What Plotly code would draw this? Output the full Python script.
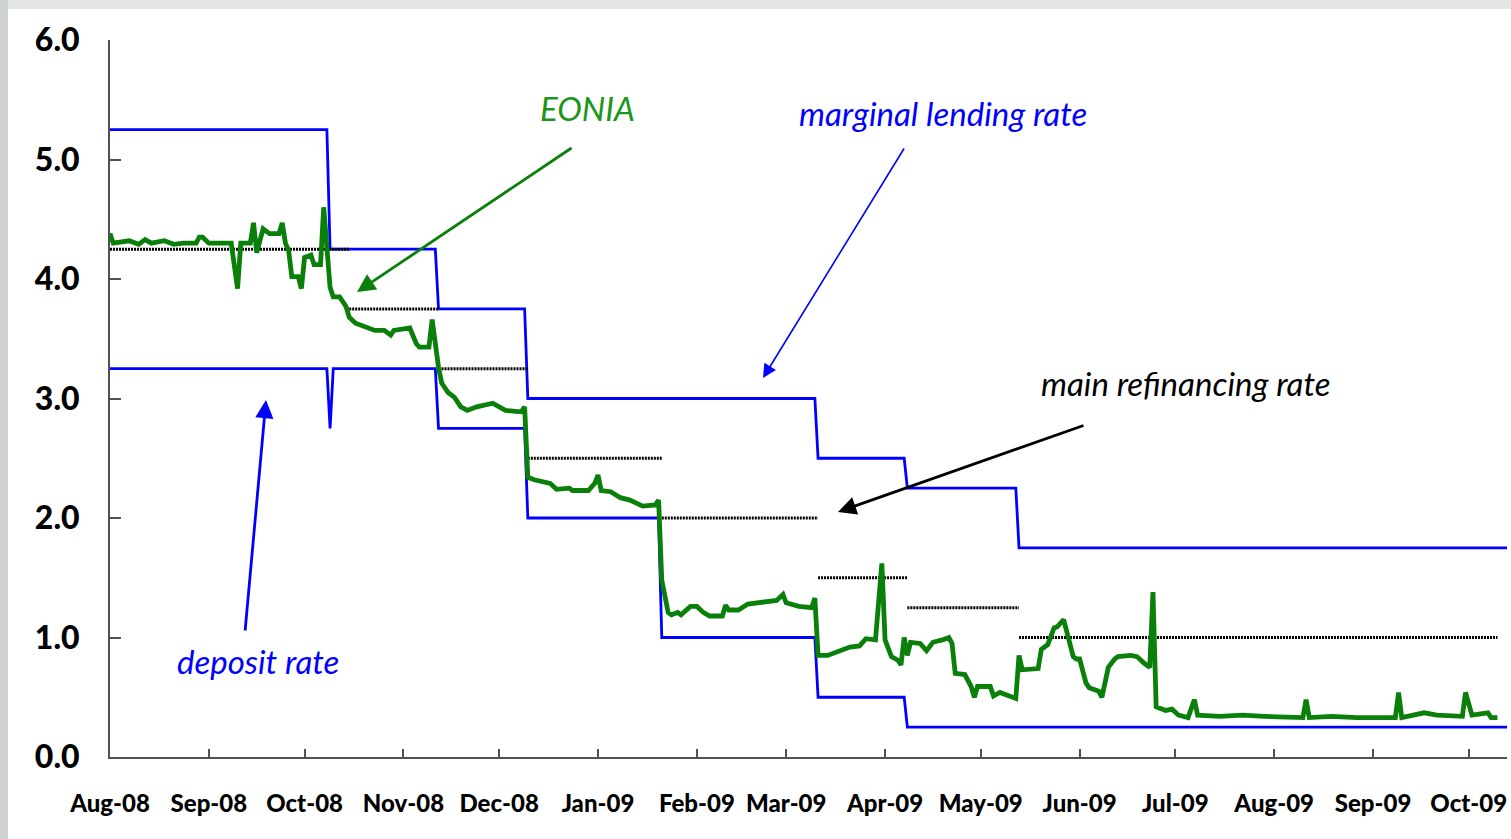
import plotly.graph_objects as go

# ---------------- data ----------------
eonia_dates = [
    "2008-08-01", "2008-08-02", "2008-08-07", "2008-08-10", "2008-08-12", "2008-08-14",
    "2008-08-18", "2008-08-21", "2008-08-24", "2008-08-28", "2008-08-29", "2008-08-30",
    "2008-09-01", "2008-09-08", "2008-09-10", "2008-09-11", "2008-09-14", "2008-09-15",
    "2008-09-16", "2008-09-18", "2008-09-20", "2008-09-23", "2008-09-24", "2008-09-25",
    "2008-09-26", "2008-09-27", "2008-09-29", "2008-09-30", "2008-10-01", "2008-10-03",
    "2008-10-04", "2008-10-06", "2008-10-07", "2008-10-09", "2008-10-10", "2008-10-12",
    "2008-10-14", "2008-10-15", "2008-10-17", "2008-10-20", "2008-10-23", "2008-10-26",
    "2008-10-28", "2008-10-29", "2008-11-02", "2008-11-03", "2008-11-05", "2008-11-06",
    "2008-11-09", "2008-11-10", "2008-11-12", "2008-11-13", "2008-11-15", "2008-11-17",
    "2008-11-19", "2008-11-21", "2008-11-24", "2008-11-27", "2008-11-29", "2008-12-01",
    "2008-12-03", "2008-12-07", "2008-12-08", "2008-12-09", "2008-12-10", "2008-12-12",
    "2008-12-15", "2008-12-17", "2008-12-19", "2008-12-23", "2008-12-24", "2008-12-29",
    "2008-12-31", "2009-01-01", "2009-01-02", "2009-01-05", "2009-01-08", "2009-01-11",
    "2009-01-15", "2009-01-19", "2009-01-20", "2009-01-21", "2009-01-23", "2009-01-24",
    "2009-01-26", "2009-01-27", "2009-01-30", "2009-02-01", "2009-02-03", "2009-02-05",
    "2009-02-09", "2009-02-10", "2009-02-11", "2009-02-14", "2009-02-17", "2009-02-20",
    "2009-02-23", "2009-02-26", "2009-02-28", "2009-03-01", "2009-03-05", "2009-03-09",
    "2009-03-10", "2009-03-11", "2009-03-14", "2009-03-17", "2009-03-21", "2009-03-24",
    "2009-03-26", "2009-03-29", "2009-03-31", "2009-04-01", "2009-04-03", "2009-04-05",
    "2009-04-06", "2009-04-07", "2009-04-08", "2009-04-09", "2009-04-12", "2009-04-14",
    "2009-04-16", "2009-04-19", "2009-04-21", "2009-04-22", "2009-04-23", "2009-04-26",
    "2009-04-28", "2009-04-29", "2009-04-30", "2009-05-04", "2009-05-05", "2009-05-07",
    "2009-05-11", "2009-05-12", "2009-05-13", "2009-05-14", "2009-05-19", "2009-05-20",
    "2009-05-22", "2009-05-24", "2009-05-25", "2009-05-27", "2009-05-30", "2009-05-31",
    "2009-06-01", "2009-06-03", "2009-06-04", "2009-06-07", "2009-06-08", "2009-06-10",
    "2009-06-12", "2009-06-13", "2009-06-17", "2009-06-19", "2009-06-21", "2009-06-23",
    "2009-06-24", "2009-06-25", "2009-06-28", "2009-06-30", "2009-07-02", "2009-07-05",
    "2009-07-07", "2009-07-08", "2009-07-15", "2009-07-22", "2009-07-29", "2009-08-06",
    "2009-08-10", "2009-08-11", "2009-08-12", "2009-08-19", "2009-08-27", "2009-09-06",
    "2009-09-08", "2009-09-09", "2009-09-10", "2009-09-17", "2009-09-21", "2009-09-29",
    "2009-09-30", "2009-10-02", "2009-10-07", "2009-10-08", "2009-10-10",
]
eonia_values = [
    4.38, 4.30, 4.32, 4.29, 4.33, 4.30,
    4.32, 4.29, 4.30, 4.30, 4.35, 4.35,
    4.30, 4.30, 3.92, 4.30, 4.30, 4.47,
    4.22, 4.42, 4.38, 4.38, 4.47, 4.30,
    4.24, 4.02, 4.02, 3.92, 4.18, 4.20,
    4.12, 4.12, 4.60, 3.93, 3.85, 3.85,
    3.77, 3.68, 3.63, 3.60, 3.57, 3.57,
    3.53, 3.57, 3.59, 3.59, 3.46, 3.43,
    3.43, 3.66, 3.26, 3.13, 3.05, 3.01,
    2.93, 2.90, 2.93, 2.95, 2.96, 2.93,
    2.90, 2.89, 2.89, 2.93, 2.34, 2.32,
    2.30, 2.29, 2.24, 2.25, 2.23, 2.23,
    2.29, 2.36, 2.23, 2.22, 2.17, 2.15,
    2.10, 2.11, 2.15, 1.48, 1.21, 1.19,
    1.21, 1.19, 1.26, 1.26, 1.21, 1.18,
    1.18, 1.27, 1.23, 1.23, 1.28, 1.29,
    1.30, 1.31, 1.36, 1.29, 1.26, 1.25,
    1.33, 0.85, 0.85, 0.88, 0.92, 0.93,
    0.99, 0.98, 1.62, 0.98, 0.84, 0.81,
    0.77, 1.00, 0.85, 0.96, 0.95, 0.89,
    0.96, 0.98, 1.00, 0.95, 0.70, 0.69,
    0.59, 0.50, 0.59, 0.59, 0.51, 0.54,
    0.50, 0.49, 0.85, 0.73, 0.74, 0.90,
    0.94, 1.08, 1.09, 1.15, 0.84, 0.82,
    0.82, 0.62, 0.58, 0.55, 0.50, 0.75,
    0.82, 0.84, 0.85, 0.84, 0.79, 0.75,
    1.38, 0.42, 0.39, 0.40, 0.35, 0.33,
    0.48, 0.35, 0.34, 0.35, 0.34, 0.33,
    0.33, 0.48, 0.33, 0.34, 0.33, 0.33,
    0.33, 0.54, 0.33, 0.37, 0.35, 0.34,
    0.54, 0.35, 0.37, 0.33, 0.33,
]

mlf_dates = ["2008-08-01", "2008-10-08", "2008-10-09", "2008-11-11", "2008-11-12",
             "2008-12-09", "2008-12-10", "2009-03-10", "2009-03-11", "2009-04-07",
             "2009-04-08", "2009-05-12", "2009-05-13", "2009-10-13"]
mlf_values = [5.25, 5.25, 4.25, 4.25, 3.75, 3.75, 3.00, 3.00, 2.50, 2.50, 2.25, 2.25, 1.75, 1.75]

df_dates = ["2008-08-01", "2008-10-08", "2008-10-09", "2008-10-10", "2008-11-11",
            "2008-11-12", "2008-12-09", "2008-12-10", "2009-01-20", "2009-01-21",
            "2009-03-10", "2009-03-11", "2009-04-07", "2009-04-08", "2009-10-13"]
df_values = [3.25, 3.25, 2.75, 3.25, 3.25, 2.75, 2.75, 2.00, 2.00, 1.00, 1.00, 0.50, 0.50, 0.25, 0.25]

mro_starts = ["2008-08-01", "2008-10-15", "2008-11-12", "2008-12-10",
              "2009-01-21", "2009-03-11", "2009-04-08", "2009-05-13"]
mro_ends = ["2008-10-15", "2008-11-12", "2008-12-10", "2009-01-21",
            "2009-03-11", "2009-04-08", "2009-05-13", "2009-10-10"]
mro_values = [4.25, 3.75, 3.25, 2.50, 2.00, 1.50, 1.25, 1.00]

y_ticks = [0, 1, 2, 3, 4, 5, 6]
x_range = ["2008-08-01", "2009-10-13"]

# ---------------- figure ----------------
W, H = 1511, 839
L, R, T, B = 110, 1507, 40, 757

def pp(x, y):
    return (x - L) / (R - L), (B - y) / (B - T)

BLUE = "#0000ff"
GREEN = "#0a800a"
FONT = "Lato"

mro_x, mro_y = [], []
for s, e, v in zip(mro_starts, mro_ends, mro_values):
    mro_x += [s, e, None]
    mro_y += [v, v, None]

fig = go.Figure()
fig.add_trace(go.Scatter(x=mlf_dates, y=mlf_values, mode="lines",
                         line=dict(color=BLUE, width=2.8), name="marginal lending rate"))
fig.add_trace(go.Scatter(x=df_dates, y=df_values, mode="lines",
                         line=dict(color=BLUE, width=2.8), name="deposit rate"))
fig.add_trace(go.Scatter(x=mro_x, y=mro_y, mode="lines", connectgaps=False,
                         line=dict(color="black", width=3, dash="2px,1px"),
                         name="main refinancing rate"))
fig.add_trace(go.Scatter(x=eonia_dates, y=eonia_values, mode="lines",
                         line=dict(color=GREEN, width=4.8), name="EONIA"))

axis_col = "#505050"
fig.update_xaxes(
    range=x_range, type="date", dtick="M1", tick0="2008-08-01", tickformat="%b-%y",
    showgrid=False, zeroline=False, showline=True, linecolor=axis_col, linewidth=2,
    ticks="inside", ticklen=8, tickwidth=2, tickcolor=axis_col,
    tickfont=dict(family=FONT, size=24, color="black", weight=900),
    ticklabelstandoff=24,
)
fig.update_yaxes(
    range=[0, 6], tickvals=y_ticks, tickformat=".1f",
    showgrid=False, zeroline=False, showline=True, linecolor=axis_col, linewidth=2,
    ticks="inside", ticklen=11, tickwidth=2, tickcolor=axis_col,
    tickfont=dict(family=FONT, size=32, color="black", weight=900),
    ticklabelstandoff=22,
)

shapes = []
# slide background border strips (grey)
x0, y0 = pp(0, 0)
x1, y1 = pp(1511, 9)
shapes.append(dict(type="rect", xref="paper", yref="paper", x0=x0, x1=x1, y0=y1, y1=y0,
                   fillcolor="#e4e6e6", line_width=0, layer="below"))
x0, y0 = pp(0, 0)
x1, y1 = pp(8, 839)
shapes.append(dict(type="rect", xref="paper", yref="paper", x0=x0, x1=x1, y0=y1, y1=y0,
                   fillcolor="#cdd1d1", line_width=0, layer="below"))

annotations = []
def label(text, cx, cy, color, size=33):
    x, y = pp(cx, cy)
    annotations.append(dict(text=text, x=x, y=y, xref="paper", yref="paper",
                            xanchor="center", yanchor="middle", showarrow=False,
                            font=dict(family=FONT, size=size, color=color, style="italic")))

def arrow(tx, ty, hx, hy, color, width, size):
    x, y = pp(hx, hy)
    annotations.append(dict(text="", x=x, y=y, xref="paper", yref="paper",
                            ax=tx - hx, ay=ty - hy, axref="pixel", ayref="pixel",
                            showarrow=True, arrowhead=2, arrowsize=size,
                            arrowwidth=width, arrowcolor=color))

label("EONIA", 587, 108, "#1b961b")
label("marginal lending rate", 943, 113, BLUE)
label("main refinancing rate", 1186, 383, "black")
label("deposit rate", 258, 661, BLUE)

arrow(573, 147, 357, 292, GREEN, 2.8, 1.3)
arrow(905, 147, 763, 378, BLUE, 1.6, 1.7)
arrow(1085, 425, 838, 512, "black", 2.8, 1.3)
arrow(245, 632, 266, 400, BLUE, 2.8, 1.3)

fig.update_layout(
    width=W, height=H, autosize=False,
    margin=dict(l=L, r=W - R, t=T, b=H - B, pad=0),
    paper_bgcolor="white", plot_bgcolor="white",
    showlegend=False, shapes=shapes, annotations=annotations,
)

fig.write_html("out.html", config={"displayModeBar": False},
               post_script="document.body.style.margin='0';document.body.style.overflow='hidden';")
